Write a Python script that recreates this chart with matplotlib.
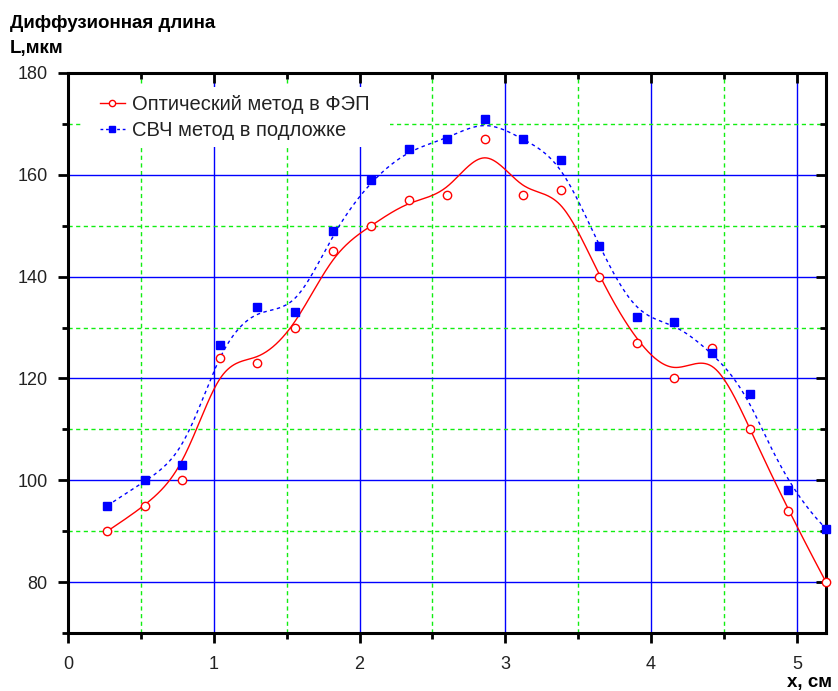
import numpy as np
import matplotlib.pyplot as plt
from matplotlib.lines import Line2D
from matplotlib.patches import Rectangle
from matplotlib.ticker import MultipleLocator

plt.rcParams['font.family'] = ['Liberation Sans', 'DejaVu Sans']

# data
x = [0.27, 0.53, 0.78, 1.04, 1.30, 1.56, 1.82, 2.08, 2.34, 2.60,
     2.86, 3.12, 3.38, 3.64, 3.90, 4.16, 4.42, 4.68, 4.94, 5.20]
L_opt = [90, 95, 100, 124, 123, 130, 145, 150, 155, 156,
         167, 156, 157, 140, 127, 120, 126, 110, 94, 80]
L_mw = [95, 100, 103, 126.5, 134, 133, 149, 159, 165, 167,
        171, 167, 163, 146, 132, 131, 125, 117, 98, 90.5]
label_opt = 'Оптический метод в ФЭП'
label_mw = 'СВЧ метод в подложке'


def bspline(cx, cy, n=600, k=3):
    # clamped uniform cubic B-spline, data points used as control points
    cx = np.asarray(cx, float)
    cy = np.asarray(cy, float)
    m = len(cx)
    knots = np.concatenate([np.zeros(k), np.linspace(0, 1, m - k + 1), np.ones(k)])
    t = np.linspace(0, 1, n)
    t[-1] -= 1e-9
    N = np.zeros((n, len(knots) - 1))
    for i in range(len(knots) - 1):
        N[:, i] = (knots[i] <= t) & (t < knots[i + 1])
    for d in range(1, k + 1):
        Nn = np.zeros((n, len(knots) - 1 - d))
        for i in range(len(knots) - 1 - d):
            a = knots[i + d] - knots[i]
            b = knots[i + d + 1] - knots[i + 1]
            term = np.zeros(n)
            if a > 0:
                term += (t - knots[i]) / a * N[:, i]
            if b > 0:
                term += (knots[i + d + 1] - t) / b * N[:, i + 1]
            Nn[:, i] = term
        N = Nn
    return N @ cx, N @ cy


fig = plt.figure(figsize=(8.38, 6.91), dpi=100)
ax = fig.add_axes([0.0811, 0.0839, 0.9046, 0.8105])

ax.set_xlim(0, 5.2)
ax.set_ylim(70, 180)
ax.xaxis.set_major_locator(MultipleLocator(1))
ax.xaxis.set_minor_locator(MultipleLocator(0.5))
ax.yaxis.set_major_locator(MultipleLocator(20))
ax.yaxis.set_minor_locator(MultipleLocator(10))
ax.set_yticks([80, 100, 120, 140, 160, 180])

ax.grid(which='major', color='#0000ff', lw=1.0, ls='-')
ax.grid(which='minor', color='#11ee11', lw=1.0, ls=(0, (3, 2.5)))
ax.set_axisbelow(True)

for s in ax.spines.values():
    s.set_linewidth(2.2)

ax.tick_params(which='both', direction='out', width=2, labelsize=13,
               labelcolor='#222222', top=True, right=True)
ax.tick_params(which='major', length=7.5)
ax.tick_params(which='minor', length=4)
ax.tick_params(axis='y', pad=7)
ax.tick_params(axis='x', pad=9)
# top and right ticks point inward
for tk in ax.xaxis.get_major_ticks() + ax.xaxis.get_minor_ticks():
    tk.tick2line.set_marker(3)
for tk in ax.yaxis.get_major_ticks() + ax.yaxis.get_minor_ticks():
    tk.tick2line.set_marker(0)

bx, by = bspline(x, L_opt)
ax.plot(bx, by, color='#ff0000', lw=1.0, zorder=3)
bx, by = bspline(x, L_mw)
ax.plot(bx, by, color='#0000ff', lw=1.0, ls=(0, (2.5, 2.5)), zorder=3)

ax.plot(x, L_opt, ls='none', marker='o', ms=6, mfc='white', mec='#ff0000',
        mew=1.0, zorder=4, clip_on=False)
ax.plot(x, L_mw, ls='none', marker='s', ms=5.8, mfc='#0000ff', mec='#0000ff',
        zorder=4, clip_on=False)

# white box behind the legend that hides the grid
ax.add_patch(Rectangle((0.017, 0.868), 0.408, 0.107, transform=ax.transAxes,
                       facecolor='white', edgecolor='none', zorder=1))

handles = [
    Line2D([], [], color='#ff0000', lw=1.0, marker='o', ms=4.5, mfc='white', mec='#ff0000'),
    Line2D([], [], color='#0000ff', lw=1.0, ls=(0, (2, 2)), marker='s', ms=4.5,
           mfc='#0000ff', mec='#0000ff'),
]
leg = ax.legend(handles, [label_opt, label_mw], loc='upper left',
                bbox_to_anchor=(0.042, 0.961), frameon=False, fontsize=14.5,
                handlelength=1.25, handletextpad=0.35, labelspacing=0.37,
                borderaxespad=0, borderpad=0)
for txt in leg.get_texts():
    txt.set_color('#222222')

fig.text(0.012, 0.9653, 'Диффузионная длина', fontsize=13.5, fontweight='bold',
         ha='left', va='center')
fig.text(0.012, 0.9305, 'L,мкм', fontsize=13.5, fontweight='bold',
         ha='left', va='center')
fig.text(0.993, 0.0116, 'x, см', fontsize=13.5, fontweight='bold',
         ha='right', va='center')

fig.savefig('out.png', dpi=100)
